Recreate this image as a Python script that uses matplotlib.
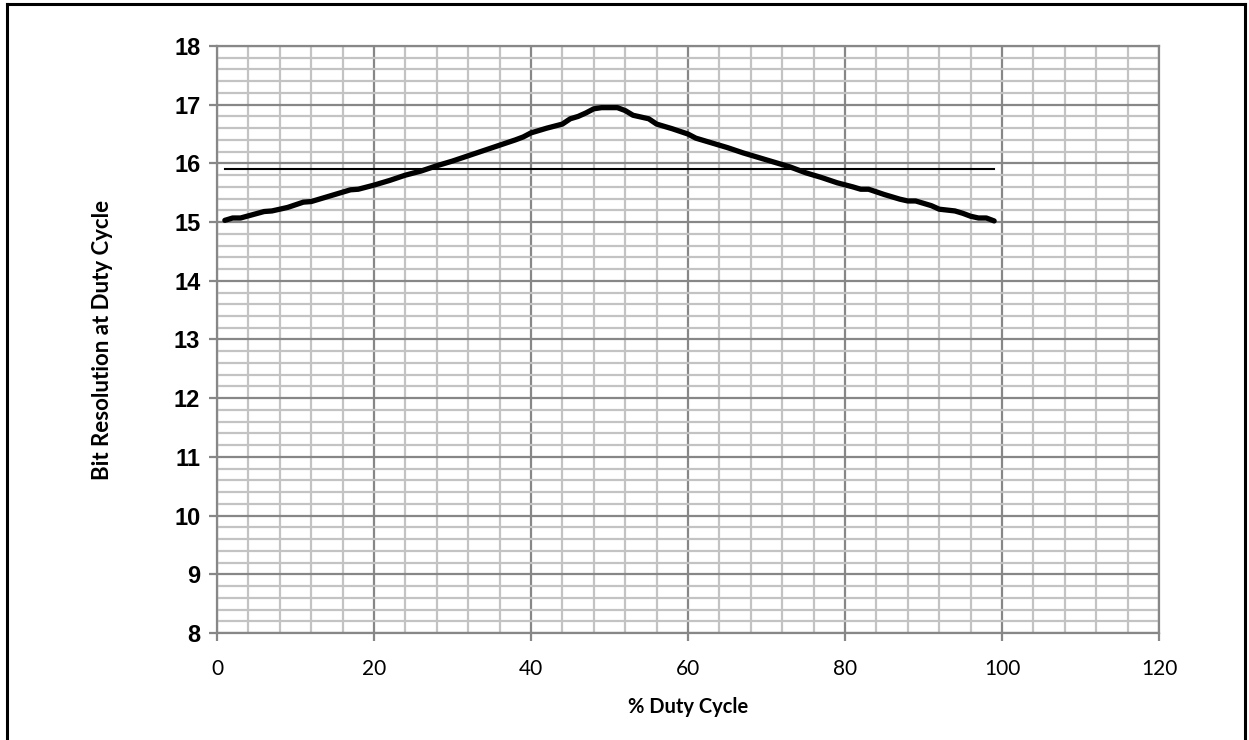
import matplotlib
matplotlib.use("Agg")
import matplotlib.pyplot as plt
from matplotlib.ticker import MultipleLocator
from matplotlib.lines import Line2D

duty_cycle = [1, 2, 3, 6, 7, 9, 11, 12, 14, 17, 18, 20, 22, 24, 26, 28, 30, 32, 34, 36,
              38, 39, 40, 42, 44, 45, 46, 47, 48, 49, 50, 51, 52, 53, 55, 56, 58, 60, 61,
              63, 65, 67, 69, 71, 73, 75, 77, 79, 81, 82, 83, 85, 87, 88, 89, 91, 92, 94,
              95, 96, 97, 98, 99]
bit_resolution = [15.03, 15.07, 15.07, 15.18, 15.19, 15.25, 15.34, 15.35, 15.43, 15.55,
                  15.56, 15.63, 15.71, 15.80, 15.87, 15.96, 16.04, 16.13, 16.22, 16.31,
                  16.40, 16.45, 16.52, 16.60, 16.67, 16.76, 16.80, 16.86, 16.93, 16.95,
                  16.95, 16.95, 16.90, 16.82, 16.76, 16.67, 16.59, 16.50, 16.43, 16.35,
                  16.27, 16.18, 16.10, 16.02, 15.94, 15.84, 15.76, 15.67, 15.60, 15.56,
                  15.56, 15.47, 15.39, 15.36, 15.36, 15.28, 15.22, 15.19, 15.15, 15.10,
                  15.07, 15.07, 15.02]
ref_x = [1, 99]
ref_y = [15.9, 15.9]

x_ticks = [0, 20, 40, 60, 80, 100, 120]
y_ticks = [8, 9, 10, 11, 12, 13, 14, 15, 16, 17, 18]

fig = plt.figure(figsize=(12.49, 7.40), dpi=100)
ax = fig.add_axes([217/1249, 1-633/740, (1159-217)/1249, (633-46)/740])

major_c = "#878787"
minor_c = "#c3c3c3"

ax.set_xlim(0, 120)
ax.set_ylim(8, 18)
ax.set_xticks(x_ticks)
ax.set_yticks(y_ticks)
ax.xaxis.set_minor_locator(MultipleLocator(4))
ax.yaxis.set_minor_locator(MultipleLocator(0.2))
ax.grid(which="minor", color=minor_c, linewidth=1.6, zorder=0)
ax.grid(which="major", color=major_c, linewidth=1.6, zorder=0.5)
ax.set_axisbelow(True)

for s in ["left", "bottom", "top", "right"]:
    ax.spines[s].set_color(major_c)
    ax.spines[s].set_linewidth(1.6)

ax.tick_params(axis="both", which="major", direction="out", length=6, width=1.6,
               color=major_c)
ax.tick_params(axis="both", which="minor", length=0)
ax.tick_params(axis="x", pad=13)
ax.tick_params(axis="y", pad=6)

ax.plot(ref_x, ref_y, color="black", linewidth=1.5, zorder=3)
ax.plot(duty_cycle, bit_resolution, color="black", linewidth=3.8, solid_capstyle="round",
        solid_joinstyle="round", zorder=4)

ax.set_xticklabels([str(v) for v in x_ticks], fontfamily="Lato", fontsize=15)
ax.set_yticklabels([str(v) for v in y_ticks], fontfamily="Liberation Sans",
                   fontweight="bold", fontsize=17)

ax.set_xlabel("% Duty Cycle", fontfamily="Lato", fontweight="bold", fontsize=14.5,
              labelpad=13)
ax.set_ylabel("Bit Resolution at Duty Cycle", fontfamily="Lato", fontweight="bold",
              fontsize=16, labelpad=44)

# outer frame
fig.add_artist(Line2D([7/1249, 7/1249], [0, 1-4/740], transform=fig.transFigure,
                      color="black", linewidth=2.2))
fig.add_artist(Line2D([7/1249, 1245/1249], [1-4/740, 1-4/740], transform=fig.transFigure,
                      color="black", linewidth=2.2))
fig.add_artist(Line2D([1245/1249, 1245/1249], [0, 1-4/740], transform=fig.transFigure,
                      color="black", linewidth=2.2))

fig.savefig("out.png", dpi=100)
